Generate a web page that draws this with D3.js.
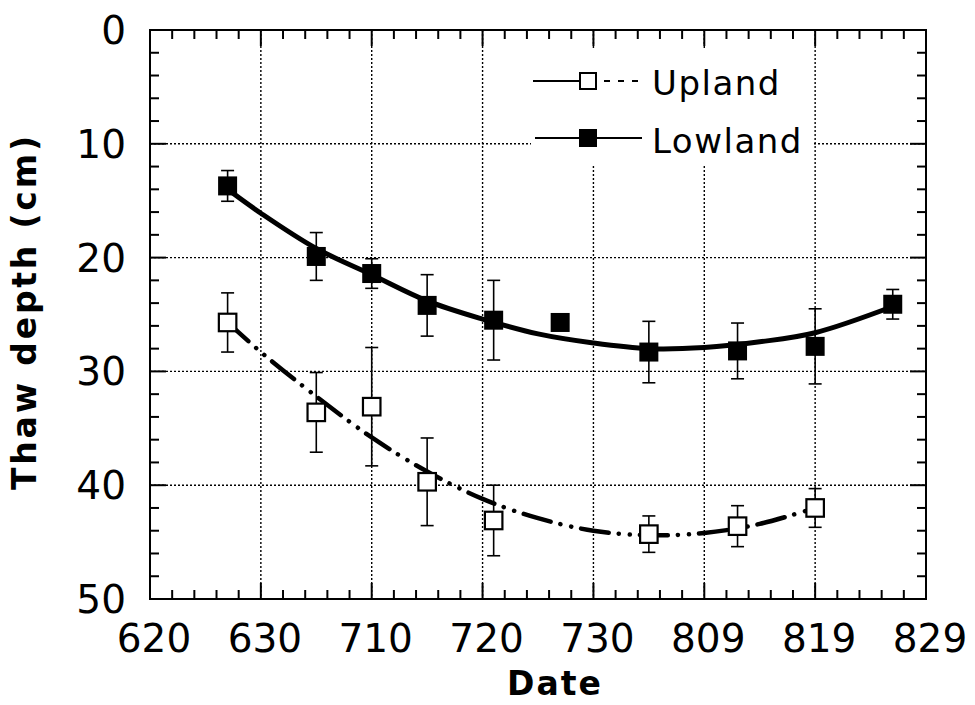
<!DOCTYPE html>
<html>
<head>
<meta charset="utf-8">
<script src="https://cdn.jsdelivr.net/npm/d3@7"></script>
<style>
	body { margin: 0; background: #fff; }
	svg { display: block; }
</style>
</head>
<body>
<div id="canvas"></div>
<script>
// Data (dates are month-day)
const lowlandDates = ['06-27', '07-05', '07-10', '07-15', '07-21', '07-27', '08-04', '08-12', '08-19', '08-26']
const lowlandDepth = [13.7, 19.9, 21.4, 24.2, 25.5, 25.7, 28.3, 28.2, 27.8, 24.1]
const lowlandErr = [1.35, 2.1, 1.3, 2.7, 3.5, 0, 2.7, 2.45, 3.3, 1.3]

const uplandDates = ['06-27', '07-05', '07-10', '07-15', '07-21', '08-04', '08-12', '08-19']
const uplandDepth = [25.7, 33.6, 33.1, 39.7, 43.1, 44.3, 43.6, 42.0]
const uplandErr = [2.6, 3.5, 5.2, 3.85, 3.1, 1.6, 1.8, 1.7]

// fitted curves
const lowlandFitDates = ['06-27', '06-30', '07-05', '07-10', '07-15', '07-20', '07-25', '07-30', '08-04', '08-09', '08-14', '08-19', '08-26']
const lowlandFit = [14.0, 16.1, 19.2, 21.5, 23.8, 25.4, 26.7, 27.5, 28.0, 27.9, 27.4, 26.6, 24.3]
const uplandFitDates = ['06-27', '06-30', '07-05', '07-10', '07-15', '07-20', '07-25', '07-30', '08-04', '08-09', '08-14', '08-19']
const uplandFit = [25.7, 28.3, 32.2, 35.8, 38.8, 41.2, 42.9, 44.0, 44.4, 44.2, 43.4, 42.0]

const yTicks = [0, 10, 20, 30, 40, 50]

// Layout
const width = 975, height = 705
const margin = {top: 30, right: 49, bottom: 106, left: 150}
const parseDate = d3.utcParse('%Y-%m-%d')
const toDate = s => parseDate('1995-' + s)

const x = d3.scaleUtc()
	.domain([toDate('06-20'), toDate('08-29')])
	.range([margin.left, width - margin.right])
const y = d3.scaleLinear()
	.domain([0, 50])
	.range([margin.top, height - margin.bottom])

const majorX = d3.utcDay.range(toDate('06-20'), d3.utcDay.offset(toDate('08-29'), 1), 10)
const minorX = d3.utcDay.range(toDate('06-20'), d3.utcDay.offset(toDate('08-29'), 1), 2)
const minorY = d3.range(0, 51, 2)
const fmt = d3.utcFormat('%-m%d')

const svg = d3.select('#canvas').append('svg')
	.attr('width', width).attr('height', height)
	.style('background-color', '#fff')

const x0 = margin.left, x1 = width - margin.right
const y0 = margin.top, y1 = height - margin.bottom

// Gridlines
const grid = svg.append('g')
	.attr('stroke', '#000').attr('stroke-width', 1.4).attr('stroke-dasharray', '2,2')
grid.selectAll('.gx').data(majorX.slice(1, -1)).enter().append('line')
	.attr('x1', d => x(d)).attr('x2', d => x(d)).attr('y1', y0).attr('y2', y1)
grid.selectAll('.gy').data(yTicks.slice(1, -1)).enter().append('line')
	.attr('y1', d => y(d)).attr('y2', d => y(d)).attr('x1', x0).attr('x2', x1)

// Ticks on all four sides, pointing in
const ticks = svg.append('g').attr('stroke', '#000').attr('stroke-width', 2)
minorX.forEach(d => {
	const major = majorX.some(m => +m === +d)
	const len = major ? 16 : 9
	ticks.append('line').attr('x1', x(d)).attr('x2', x(d)).attr('y1', y1).attr('y2', y1 - len)
	ticks.append('line').attr('x1', x(d)).attr('x2', x(d)).attr('y1', y0).attr('y2', y0 + len)
})
minorY.forEach(d => {
	const len = d % 10 === 0 ? 16 : 9
	ticks.append('line').attr('y1', y(d)).attr('y2', y(d)).attr('x1', x0).attr('x2', x0 + len)
	ticks.append('line').attr('y1', y(d)).attr('y2', y(d)).attr('x1', x1).attr('x2', x1 - len)
})

// Frame
svg.append('rect')
	.attr('x', x0).attr('y', y0).attr('width', x1 - x0).attr('height', y1 - y0)
	.attr('fill', 'none').attr('stroke', '#000').attr('stroke-width', 2)

// Tick labels
svg.append('g').selectAll('text').data(majorX).enter().append('text')
	.attr('x', d => x(d) + 4).attr('y', y1 + 53)
	.attr('text-anchor', 'middle')
	.attr('font-family', 'DejaVu Sans').attr('font-size', 39)
	.text(d => fmt(d))
svg.append('g').selectAll('text').data(yTicks).enter().append('text')
	.attr('x', x0 - 24).attr('y', d => y(d))
	.attr('dy', '0.36em')
	.attr('text-anchor', 'end')
	.attr('font-family', 'DejaVu Sans').attr('font-size', 39)
	.text(d => d)

// Axis titles
svg.append('text')
	.attr('transform', `translate(36,${313}) rotate(-90)`)
	.attr('text-anchor', 'middle')
	.attr('font-family', 'DejaVu Sans').attr('font-weight', 'bold').attr('font-size', 33)
	.attr('textLength', 354).attr('lengthAdjust', 'spacing')
	.text('Thaw depth (cm)')
svg.append('text')
	.attr('x', 555).attr('y', 695)
	.attr('text-anchor', 'middle')
	.attr('font-family', 'DejaVu Sans').attr('font-weight', 'bold').attr('font-size', 33)
	.attr('letter-spacing', 2)
	.text('Date')

// Fitted curves
const line = d3.line()
	.curve(d3.curveCatmullRom)
	.x(d => x(d.date))
	.y(d => y(d.v))
const lowFit = lowlandFitDates.map((s, i) => ({date: toDate(s), v: lowlandFit[i]}))
const upFit = uplandFitDates.map((s, i) => ({date: toDate(s), v: uplandFit[i]}))

svg.append('path')
	.attr('d', line(upFit))
	.attr('fill', 'none').attr('stroke', '#000').attr('stroke-width', 4.5)
	.attr('stroke-linecap', 'round')
	.attr('stroke-dasharray', '28 10 0.1 11 0.1 10')
svg.append('path')
	.attr('d', line(lowFit))
	.attr('fill', 'none').attr('stroke', '#000').attr('stroke-width', 5)

// Error bars + markers
function drawSeries(dates, depth, err, filled) {
	const data = dates.map((s, i) => ({date: toDate(s), v: depth[i], e: err[i]}))
	const g = svg.append('g')
	const eb = g.selectAll('.eb').data(data.filter(d => d.e > 0)).enter().append('g')
		.attr('stroke', '#000').attr('stroke-width', 1.6)
	eb.append('line')
		.attr('x1', d => x(d.date)).attr('x2', d => x(d.date))
		.attr('y1', d => y(d.v - d.e)).attr('y2', d => y(d.v + d.e))
	eb.append('line')
		.attr('x1', d => x(d.date) - 6.5).attr('x2', d => x(d.date) + 6.5)
		.attr('y1', d => y(d.v - d.e)).attr('y2', d => y(d.v - d.e))
	eb.append('line')
		.attr('x1', d => x(d.date) - 6.5).attr('x2', d => x(d.date) + 6.5)
		.attr('y1', d => y(d.v + d.e)).attr('y2', d => y(d.v + d.e))
	const s = filled ? 19 : 17.5
	g.selectAll('.pt').data(data).enter().append('rect')
		.attr('x', d => x(d.date) - s / 2).attr('y', d => y(d.v) - s / 2)
		.attr('width', s).attr('height', s)
		.attr('fill', filled ? '#000' : '#fff')
		.attr('stroke', filled ? 'none' : '#000').attr('stroke-width', 2.2)
}
drawSeries(uplandDates, uplandDepth, uplandErr, false)
drawSeries(lowlandDates, lowlandDepth, lowlandErr, true)

// Legend
const legend = svg.append('g')
legend.append('rect').attr('x', 531).attr('y', 48).attr('width', 281).attr('height', 116).attr('fill', '#fff')
legend.append('line').attr('x1', 533).attr('x2', 580).attr('y1', 81).attr('y2', 81).attr('stroke', '#000').attr('stroke-width', 2)
legend.append('line').attr('x1', 600).attr('x2', 643).attr('y1', 81).attr('y2', 81)
	.attr('stroke', '#000').attr('stroke-width', 2).attr('stroke-dasharray', '6 8').attr('stroke-dashoffset', -4)
legend.append('rect').attr('x', 580).attr('y', 73).attr('width', 16).attr('height', 16)
	.attr('fill', '#fff').attr('stroke', '#000').attr('stroke-width', 2)
legend.append('line').attr('x1', 535).attr('x2', 642).attr('y1', 138).attr('y2', 138).attr('stroke', '#000').attr('stroke-width', 2)
legend.append('rect').attr('x', 579).attr('y', 129).attr('width', 18).attr('height', 18).attr('fill', '#000')
legend.selectAll('text').data(['Upland', 'Lowland']).enter().append('text')
	.attr('x', 652).attr('y', (d, i) => 95 + i * 58)
	.attr('font-family', 'DejaVu Sans').attr('font-size', 34)
	.attr('letter-spacing', 1.5)
	.text(d => d)
</script>
</body>
</html>
